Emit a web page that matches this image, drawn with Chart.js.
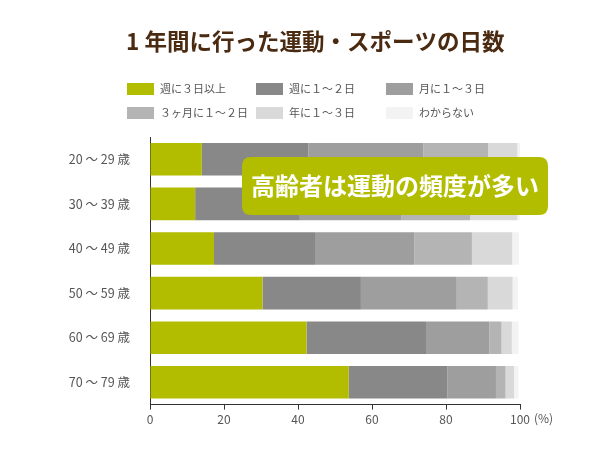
<!DOCTYPE html>
<html><head><meta charset="utf-8">
<script src="https://cdn.jsdelivr.net/npm/chart.js@4/dist/chart.umd.min.js"></script>
<style>html,body{margin:0;padding:0;background:#fff;}#wrap{width:600px;height:450px;position:relative;}</style>
</head><body><div id="wrap"><canvas id="c" width="600" height="450"></canvas></div>
<script>
const categories = ['20 ～ 29 歳','30 ～ 39 歳','40 ～ 49 歳','50 ～ 59 歳','60 ～ 69 歳','70 ～ 79 歳'];
const seriesNames = ['週に３日以上','週に１～２日','月に１～３日','３ヶ月に１～２日','年に１～３日','わからない'];
const s1 = [14.0, 12.2, 17.3, 30.4, 42.3, 53.7];
const s2 = [28.8, 28.3, 27.3, 26.6, 32.3, 26.7];
const s3 = [31.1, 27.5, 26.8, 25.9, 17.1, 13.1];
const s4 = [17.5, 18.5, 15.6, 8.4, 3.3, 2.6];
const s5 = [7.9, 12.8, 10.9, 6.7, 2.8, 2.3];
const s6 = [0.7, 0.7, 1.8, 1.5, 1.8, 1.2];
const xTicks = [0, 20, 40, 60, 80, 100];
const titleText = '1 年間に行った運動・スポーツの日数';
const calloutText = '高齢者は運動の頻度が多い';

const colors = ['#b2bd00','#888888','#9e9e9e','#b4b4b4','#d9d9d9','#f3f3f3'];
const FONT = '"Noto Sans CJK JP","Noto Sans",sans-serif';
const allSeries = [s1,s2,s3,s4,s5,s6];

const datasets = allSeries.map((d,i)=>({
  label: seriesNames[i], data: d, backgroundColor: colors[i],
  borderWidth: 0, barPercentage: 0.73, categoryPercentage: 1.0
}));

function roundRect(ctx,x,y,w,h,r){
  ctx.beginPath();
  ctx.moveTo(x+r,y);ctx.lineTo(x+w-r,y);ctx.quadraticCurveTo(x+w,y,x+w,y+r);
  ctx.lineTo(x+w,y+h-r);ctx.quadraticCurveTo(x+w,y+h,x+w-r,y+h);
  ctx.lineTo(x+r,y+h);ctx.quadraticCurveTo(x,y+h,x,y+h-r);
  ctx.lineTo(x,y+r);ctx.quadraticCurveTo(x,y,x+r,y);ctx.closePath();
}

const deco = {
  id:'deco',
  afterDraw(chart){
    const ctx = chart.ctx;
    ctx.save();
    // title
    ctx.fillStyle = '#4a2a10';
    ctx.font = 'bold 22.5px '+FONT;
    ctx.textAlign = 'left'; ctx.textBaseline = 'middle';
    ctx.fillText(titleText, 126, 41);
    // legend grid
    ctx.font = '11px '+FONT;
    const colX = [127, 256, 386];
    const rowY = [89, 113];
    chart.data.datasets.forEach((ds,i)=>{
      const cx = colX[i%3], cy = rowY[Math.floor(i/3)];
      ctx.fillStyle = ds.backgroundColor;
      ctx.fillRect(cx, cy-6, 27, 12);
      ctx.fillStyle = '#555';
      ctx.textAlign='left';
      ctx.fillText(ds.label, cx+33, cy);
    });
    // (%) unit
    const xs = chart.scales.x;
    ctx.font = '12px '+FONT;
    ctx.fillStyle = '#555';
    ctx.textBaseline = 'top';
    ctx.fillText('(%)', xs.getPixelForValue(100)+14, xs.top + 8);
    // callout
    ctx.fillStyle = '#b2bd00';
    roundRect(ctx, 242, 157, 306, 58, 9);
    ctx.fill();
    ctx.fillStyle = '#ffffff';
    ctx.font = 'bold 24px '+FONT;
    ctx.textAlign = 'center';
    ctx.textBaseline = 'middle';
    ctx.fillText(calloutText, 395, 186);
    ctx.restore();
  }
};

new Chart(document.getElementById('c'), {
  type: 'bar',
  data: { labels: categories, datasets },
  options: {
    indexAxis: 'y', responsive: false, animation: false,
    layout: { padding: { top: 137, right: 80, bottom: 20, left: 0 } },
    plugins: { legend: { display: false }, title: { display: false }, tooltip: { enabled: false } },
    scales: {
      x: {
        stacked: true, min: 0, max: 100,
        afterBuildTicks(scale){ scale.ticks = xTicks.map(v=>({value:v})); },
        grid: { drawOnChartArea: false, drawTicks: true, tickLength: 5, color: '#333' },
        border: { display: true, color: '#333', width: 1 },
        ticks: { color: '#555', font: { size: 12, family: FONT }, padding: 3, maxRotation: 0 }
      },
      y: {
        stacked: true,
        afterFit(scale){ scale.width = 150; },
        grid: { display: false, drawTicks: false },
        border: { display: true, color: '#333', width: 1 },
        ticks: { color: '#555', font: { size: 12.5, family: FONT }, padding: 20 }
      }
    }
  },
  plugins: [deco]
});
</script></body></html>
